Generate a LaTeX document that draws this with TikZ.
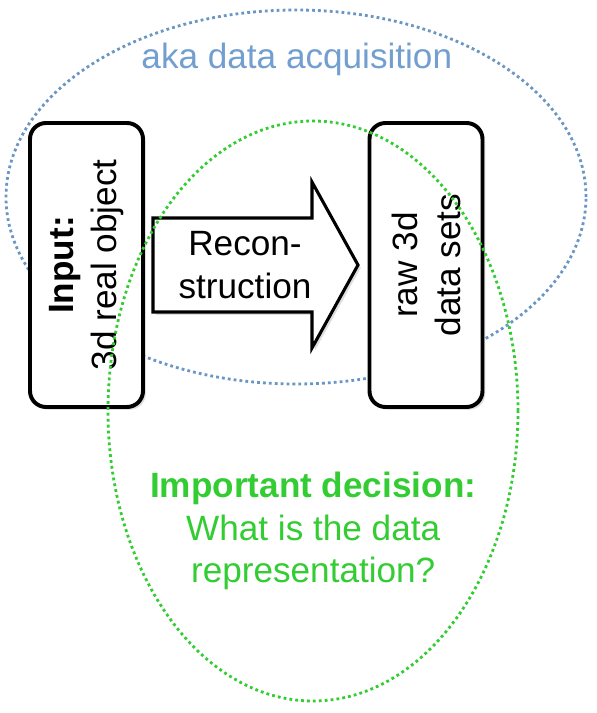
\documentclass[tikz,border=0pt]{standalone}
\usepackage{fontspec}
\setmainfont{Liberation Sans}
\usepackage{xcolor}
\definecolor{steel-blue}{HTML}{729FCF}
\definecolor{dusk-blue}{HTML}{6A96C4}
\definecolor{lime-green}{HTML}{33CC33}
\usepackage{tikz}
\usetikzlibrary{shapes,shadows,positioning}
\tikzset{
    semithick,
    font=\fontsize{25}{30.5}\selectfont,
    stage/.style ={rectangle, draw, rounded corners=0.4cm, line width=2.8pt, fill=white, minimum width=7.1cm, minimum height=2.825cm, rotate=90, align=center, inner sep=0pt, drop shadow={opacity=0.25, shadow xshift=2pt, shadow yshift=-2pt}},
    bigarrow/.style = {draw, line width=2.2pt, fill=white, drop shadow={opacity=0.25, shadow xshift=2pt, shadow yshift=-2pt}},
    region/.style = {ellipse, draw, line width=2pt, dash pattern=on 2pt off 2.2pt, inner sep=0pt}
}

\begin{document}
\begin{tikzpicture}
      \useasboundingbox (0,0) rectangle (14.925,17.825);

      \node[region, dusk-blue, minimum width=14.5cm, minimum height=9.35cm] (acquisition) at (7.4, 12.9) {};
      \node[steel-blue] (aka) at (7.42, 16.33) {aka data acquisition};

      \node[stage] (input) at (2.1625, 11.2) {\textbf{Input:}\\3d real object};
      \node[stage] (raw) at (10.65, 11.2) {raw 3d\\data sets};

      % block arrow between the two stages
      \draw[bigarrow] (3.825, 10.025) -- (7.8, 10.025) -- (7.8, 9.125) -- (8.95, 11.2) -- (7.8, 13.275) -- (7.8, 12.375) -- (3.825, 12.375) -- cycle;
      \node[align=center] (recon) at (6.125, 11.2) {Recon-\\struction};

      \node[region, lime-green, minimum width=10.25cm, minimum height=14.5cm] (decision) at (7.825, 7.55) {};
      \node[lime-green, align=center] (question) at (7.83, 4.55) {\textbf{Important decision:}\\What is the data\\representation?};
    \end{tikzpicture}
\end{document}
